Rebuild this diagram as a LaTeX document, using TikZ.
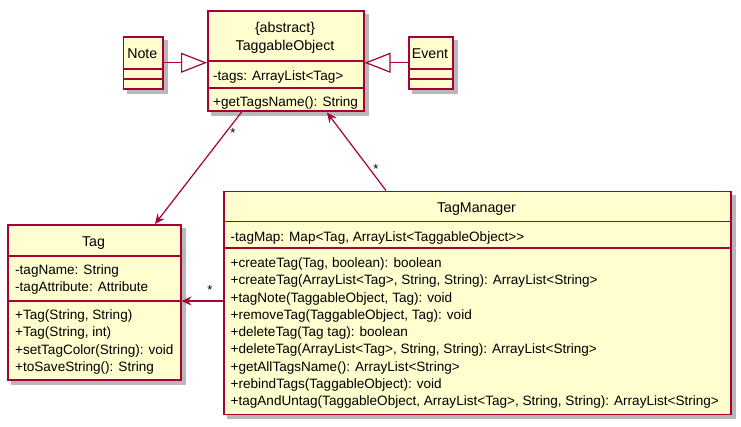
\documentclass[tikz,border=0pt]{standalone}
\usepackage{fontspec}
\setmainfont{Liberation Sans}[Ligatures=ResetAll]
\usetikzlibrary{arrows.meta,calc,backgrounds}
\definecolor{umlborder}{HTML}{A80036}
\definecolor{umlfill}{HTML}{FEFECE}
\begin{document}
\begin{tikzpicture}[x=1pt,y=-1pt,
  cls/.style={draw=umlborder, fill=umlfill, line width=1.5pt, inner sep=0pt, anchor=north west},
  shd/.style={fill=black!28},
  sep/.style={draw=umlborder, line width=1.3pt},
  ttl/.style={font=\fontsize{14.2}{16}\selectfont, inner sep=0pt, anchor=base},
  mem/.style={font=\fontsize{13.55}{15}\selectfont, inner sep=0pt, anchor=base west},
  mult/.style={font=\fontsize{13}{15}\selectfont, inner sep=0pt},
  assoc/.style={draw=umlborder, line width=1.2pt, -{Stealth[length=10pt,width=9pt,inset=3.5pt]}},
  gen/.style={draw=umlborder, line width=1.2pt, -{Triangle[open, length=26pt, width=20pt, fill=white]}}
]
\useasboundingbox (0,0) rectangle (741,426);

% class boxes
\node[cls, minimum width=39.5pt, minimum height=52pt] (note) at (122.5,36) {};
\node[cls, minimum width=44pt, minimum height=52pt] (event) at (408,36) {};
\node[cls, minimum width=156pt, minimum height=100pt] (to) at (207,10) {};
\node[cls, minimum width=173pt, minimum height=155pt] (tag) at (7,224) {};
\node[cls, minimum width=507pt, minimum height=223pt] (tm) at (223,190.5) {};

% shadows
\begin{scope}[on background layer]
  \foreach \n in {note,event,to,tag,tm}
    \fill[shd] ($(\n.north west)+(4,4)$) rectangle ($(\n.south east)+(4,4)$);
\end{scope}

% separators
\draw[sep] (note.west |- 0,69) -- (note.east |- 0,69);
\draw[sep] (note.west |- 0,79) -- (note.east |- 0,79);
\draw[sep] (event.west |- 0,69) -- (event.east |- 0,69);
\draw[sep] (event.west |- 0,79) -- (event.east |- 0,79);
\draw[sep] (to.west |- 0,61) -- (to.east |- 0,61);
\draw[sep] (to.west |- 0,88) -- (to.east |- 0,88);
\draw[sep] (tag.west |- 0,256) -- (tag.east |- 0,256);
\draw[sep] (tag.west |- 0,301) -- (tag.east |- 0,301);
\draw[sep] (tm.west |- 0,221.5) -- (tm.east |- 0,221.5);
\draw[sep] (tm.west |- 0,248) -- (tm.east |- 0,248);

% titles
\node[ttl] (notet) at (142.25,58) {Note};
\node[ttl] (eventt) at (430,58) {Event};
\node[ttl] (toa) at (285,32) {\{abstract\}};
\node[ttl] (tot) at (285,50) {TaggableObject};
\node[ttl] (tagt) at (93.5,246) {Tag};
\node[ttl] (tmt) at (476.5,212) {TagManager};

% members
\node[mem] (tom1) at (213,80.5) {-tags: ArrayList<Tag>};
\node[mem] (tom2) at (213,106.5) {+getTagsName(): String};

\node[mem] (tagm1) at (15,274.5) {-tagName: String};
\node[mem] (tagm2) at (15,291.5) {-tagAttribute: Attribute};
\node[mem] (tagm3) at (15,319.5) {+Tag(String, String)};
\node[mem] (tagm4) at (15,336.5) {+Tag(String, int)};
\node[mem] (tagm5) at (15,354) {+setTagColor(String): void};
\node[mem] (tagm6) at (15,371) {+toSaveString(): String};

\node[mem] (tmm0) at (230.5,241) {-tagMap: Map<Tag, ArrayList<TaggableObject>{}>};
\foreach \t [count=\i] in {
  {+createTag(Tag, boolean): boolean},
  {+createTag(ArrayList<Tag>, String, String): ArrayList<String>},
  {+tagNote(TaggableObject, Tag): void},
  {+removeTag(TaggableObject, Tag): void},
  {+deleteTag(Tag tag): boolean},
  {+deleteTag(ArrayList<Tag>, String, String): ArrayList<String>},
  {+getAllTagsName(): ArrayList<String>},
  {+rebindTags(TaggableObject): void},
  {+tagAndUntag(TaggableObject, ArrayList<Tag>, String, String): ArrayList<String>}}
  \node[mem] (tmm\i) at (230.5,{267.5+(\i-1)*17.25}) {\t};

% generalizations
\draw[gen] (note.east) -- (note.east -| to.west);
\draw[gen] (event.west) -- (event.west -| to.east);

% associations
\draw[assoc] ($(to.south west)+(35,0)$) -- ($(tag.north west)+(148,0)$);
\draw[assoc] ($(tm.north west)+(163,0)$) -- ($(to.south west)+(120,1)$);
\draw[assoc] (tm.west |- 0,301) -- (tag.east |- 0,301);

% multiplicities
\node[mult] (m1) at (233,133) {*};
\node[mult] (m2) at (376,169) {*};
\node[mult] (m3) at (210,290) {*};
\end{tikzpicture}
\end{document}
